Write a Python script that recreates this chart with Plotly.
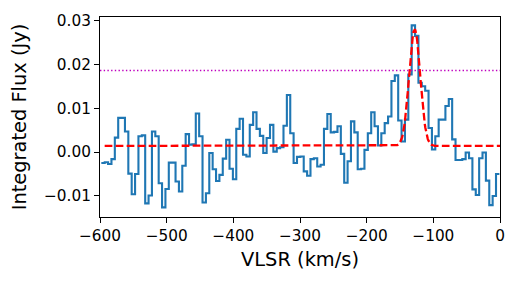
import numpy as np
import plotly.graph_objects as go

# Spectrum: channel fluxes (Jy), uniform channels
v_start = -598.0      # left edge of first channel (km/s)
dv = 5.06             # channel width (km/s)
flux = [
    -0.0025, -0.0023, -0.0027, -0.0016, 0.0033, 0.0078, 0.0078, 0.0047, -0.0049, -0.0096,
    -0.0050, 0.0036, 0.0038, -0.0117, -0.0099, 0.0047, 0.0036, -0.0071, -0.0126, -0.0084,
    -0.0024, -0.0024, -0.0067, -0.0090, -0.0031, 0.0041, 0.0017, 0.0018, 0.0088, 0.0036,
    -0.0115, -0.0094, -0.0002, -0.0039, -0.0066, -0.0052, -0.0015, 0.0028, -0.0038, -0.0062,
    0.0053, 0.0076, -0.0006, -0.0010, 0.0062, 0.0091, 0.0053, 0.0037, -0.0002, 0.0032,
    0.0062, 0.0001, 0.0009, 0.0011, 0.0060, 0.0130, 0.0043, -0.0025, -0.0011, -0.0010,
    -0.0044, -0.0054, -0.0016, -0.0014, -0.0033, -0.0029, 0.0053, 0.0087, 0.0045, 0.0046,
    0.0059, -0.0004, -0.0070, -0.0021, 0.0070, 0.0045, -0.0039, -0.0038, 0.0005, 0.0043,
    0.0091, 0.0059, 0.0015, 0.0043, 0.0066, 0.0081, 0.0162, 0.0175, 0.0072, 0.0024,
    0.0074, 0.0177, 0.0289, 0.0265, 0.0158, 0.0150, 0.0140, 0.0055, 0.0006, 0.0036,
    0.0074, 0.0074, 0.0105, 0.0121, 0.0029, -0.0018, -0.0018, -0.0016, -0.0001, -0.0014,
    -0.0085, -0.0098, -0.0014, -0.0001, -0.0065, -0.0121, -0.0100, -0.0050,
]

# Gaussian fit parameters
fit_base = 0.0014
fit_amp = 0.0266
fit_mu = -128.0
fit_sigma = 8.3
fit_vmin, fit_vmax = -593.0, 0.0

# Detection threshold line
threshold = 0.0186

x_ticks = [-600, -500, -400, -300, -200, -100, 0]
x_ticktext = ["\u2212600", "\u2212500", "\u2212400", "\u2212300", "\u2212200", "\u2212100", "0"]
y_ticks = [-0.01, 0.0, 0.01, 0.02, 0.03]
y_ticktext = ["\u22120.01", "0.00", "0.01", "0.02", "0.03"]

n = len(flux)
edges = v_start + dv * np.arange(n + 1)
y_step = list(flux) + [flux[-1]]

vfit = np.linspace(fit_vmin, fit_vmax, 800)
yfit = fit_base + fit_amp * np.exp(-(vfit - fit_mu) ** 2 / (2 * fit_sigma ** 2))

FONT = "DejaVu Sans"

fig = go.Figure()
fig.add_trace(go.Scatter(x=edges, y=y_step, mode="lines", line_shape="hv",
                         line=dict(color="#1f77b4", width=2.1), showlegend=False))
fig.add_trace(go.Scatter(x=vfit, y=yfit, mode="lines",
                         line=dict(color="#ff0000", width=2.3, dash="7.7px,3.3px"),
                         showlegend=False))
fig.add_trace(go.Scatter(x=[-600, 0], y=[threshold, threshold], mode="lines",
                         line=dict(color="#bf00bf", width=1.4, dash="1.4px,2.3px"),
                         showlegend=False))

axis_common = dict(showline=True, mirror=True, linecolor="black", linewidth=1.1,
                   ticks="outside", ticklen=5, tickwidth=1.1, tickcolor="black",
                   showgrid=False, zeroline=False,
                   tickfont=dict(family=FONT, size=15.3, color="black"))

# page body has an 8px margin, so the figure is sized/offset to fit the 517x281 window
fig.update_layout(
    width=509, height=273,
    margin=dict(l=92, r=17, t=9, b=64),
    paper_bgcolor="white", plot_bgcolor="white",
    font=dict(family=FONT, color="black"),
    xaxis=dict(range=[-600, 0], tickvals=x_ticks, ticktext=x_ticktext,
               title=dict(text="VLSR (km/s)", font=dict(family=FONT, size=19.4), standoff=8),
               **axis_common),
    yaxis=dict(range=[-0.0148, 0.0308], tickvals=y_ticks, ticktext=y_ticktext,
               title=dict(text="Integrated Flux (Jy)", font=dict(family=FONT, size=19.4), standoff=14),
               automargin=False, **axis_common),
)

fig.write_html("out.html")
